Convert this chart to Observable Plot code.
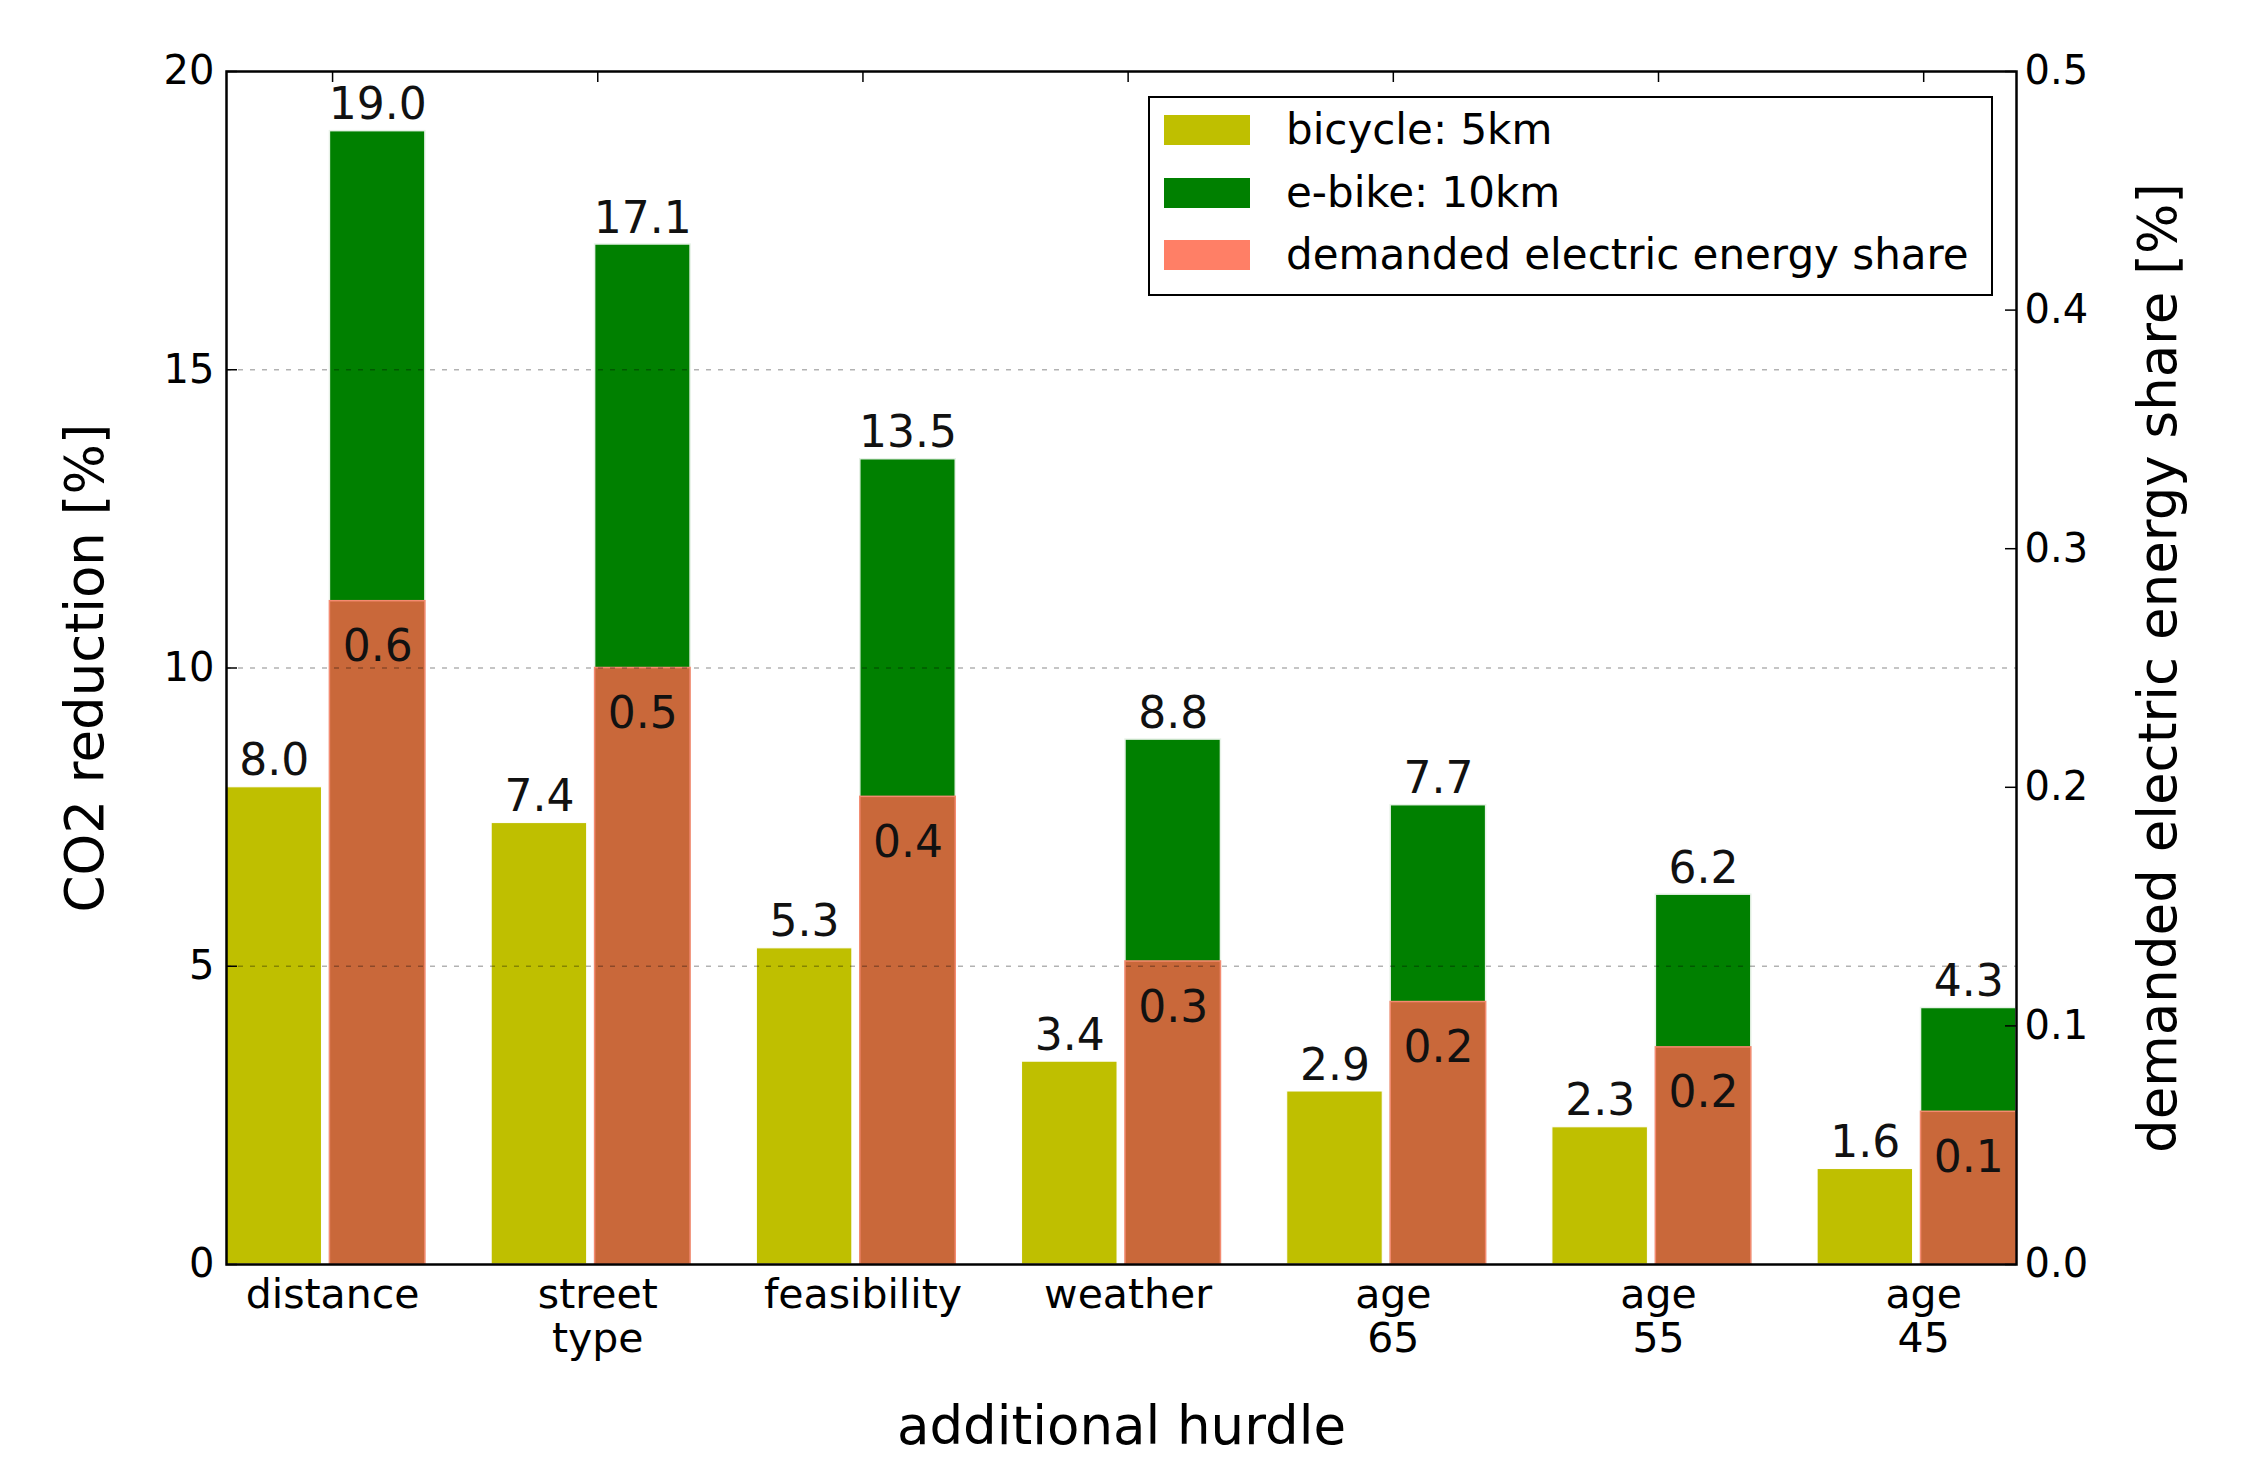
<!DOCTYPE html>
<html>
<head>
<meta charset="utf-8">
<script src="https://cdn.jsdelivr.net/npm/d3@7"></script>
<script src="https://cdn.jsdelivr.net/npm/@observablehq/plot@0.6"></script>
<style>
  html, body { margin: 0; padding: 0; background: white; }
  #wrap { position: relative; width: 2242px; height: 1458px; font-family: "DejaVu Sans", sans-serif; }
  #legend { position: absolute; left: 1148px; top: 96px; width: 841px; height: 196px; border: 2.5px solid #000; background: white; }
  .row { position: absolute; left: 14px; height: 30px; display: flex; align-items: center; }
  .sw { width: 86px; height: 30px; margin-right: 36px; box-sizing: border-box; }
  .lt { font-size: 42px; color: #000; white-space: nowrap; line-height: 30px; }
</style>
</head>
<body>
<div id="wrap"></div>
<script>
const categories = ["distance", "street\ntype", "feasibility", "weather", "age\n65", "age\n55", "age\n45"];
const bicycle = [8.0, 7.4, 5.3, 3.4, 2.9, 2.3, 1.6];
const ebike = [19.0, 17.1, 13.5, 8.8, 7.7, 6.2, 4.3];
const energyShare = [0.278, 0.250, 0.196, 0.127, 0.110, 0.091, 0.064];
const energyShareLabels = ["0.6", "0.5", "0.4", "0.3", "0.2", "0.2", "0.1"];
const leftTicks = [0, 5, 10, 15, 20];
const rightTicks = [0.0, 0.1, 0.2, 0.3, 0.4, 0.5];
const gridValues = [5, 10, 15];
const seriesNames = ["bicycle: 5km", "e-bike: 10km", "demanded electric energy share"];
const seriesColors = ["#bfbf00", "#008000", "#ff7f66"];

const shareToLeft = 20 / 0.5; // right axis 0..0.5 mapped onto left axis 0..20

const rows = categories.map((c, i) => ({
  i, category: c, bicycle: bicycle[i], ebike: ebike[i],
  share: energyShare[i], shareLabel: energyShareLabels[i]
}));

const W = 2242, H = 1458, mL = 226, mR = 226, mT = 71, mB = 194;
const fw = W - mL - mR, fh = H - mT - mB, tk = 11;

const chart = Plot.plot({
  width: W, height: H,
  marginLeft: mL, marginRight: mR, marginTop: mT, marginBottom: mB,
  x: {domain: [0, 6.75], axis: null},
  y: {domain: [0, 20], axis: null},
  style: {fontFamily: "DejaVu Sans, sans-serif", background: "white", color: "#000"},
  marks: [
    Plot.rectY(rows, {x1: d => d.i, x2: d => d.i + 0.36, y1: 0, y2: "bicycle", fill: seriesColors[0], stroke: "white", strokeWidth: 1}),
    Plot.rectY(rows, {x1: d => d.i + 0.39, x2: d => d.i + 0.75, y1: 0, y2: "ebike", fill: seriesColors[1], stroke: "#e8f2e8", strokeWidth: 1.5}),
    Plot.rectY(rows, {x1: d => d.i + 0.39, x2: d => d.i + 0.75, y1: 0, y2: d => d.share * shareToLeft, fill: "#c9683a", stroke: "#f48a70", strokeWidth: 1.5}),
    Plot.ruleY(gridValues, {stroke: "#000", strokeOpacity: 0.3, strokeWidth: 1.5, strokeDasharray: "5,7"}),
    Plot.frame({stroke: "#000", strokeWidth: 2.5}),
    Plot.tickX(rows, {x: d => d.i + 0.4, insetBottom: fh - tk, stroke: "#000", strokeWidth: 1.5}),
    Plot.tickY(leftTicks, {y: d => d, insetRight: fw - tk, stroke: "#000", strokeWidth: 1.5}),
    Plot.tickY(rightTicks, {y: d => d * shareToLeft, insetLeft: fw - tk, stroke: "#000", strokeWidth: 1.5}),
    Plot.text(leftTicks, {y: d => d, text: d => String(d), frameAnchor: "left", textAnchor: "end", dx: -12, fontSize: 40}),
    Plot.text(rightTicks, {y: d => d * shareToLeft, text: d => d.toFixed(1), frameAnchor: "right", textAnchor: "start", dx: 8, fontSize: 40}),
    Plot.text(rows, {x: d => d.i + 0.18, y: "bicycle", text: d => d.bicycle.toFixed(1), lineAnchor: "middle", dy: -26, fontSize: 44, fill: "#111"}),
    Plot.text(rows, {x: d => d.i + 0.57, y: "ebike", text: d => d.ebike.toFixed(1), lineAnchor: "middle", dy: -26, fontSize: 44, fill: "#111"}),
    Plot.text(rows, {x: d => d.i + 0.57, y: d => d.share * shareToLeft, text: "shareLabel", lineAnchor: "middle", dy: 46, fontSize: 44, fill: "#111"}),
    Plot.text(rows, {x: d => d.i + 0.4, text: "category", frameAnchor: "bottom", textAnchor: "middle", lineAnchor: "top", dy: 12, fontSize: 41, lineHeight: 1.08}),
    Plot.text(["additional hurdle"], {frameAnchor: "bottom", textAnchor: "middle", lineAnchor: "middle", dy: 163, fontSize: 53}),
    Plot.text(["CO2 reduction [%]"], {frameAnchor: "left", textAnchor: "middle", lineAnchor: "middle", dx: -140, rotate: -90, fontSize: 53}),
    Plot.text(["demanded electric energy share [%]"], {frameAnchor: "right", textAnchor: "middle", lineAnchor: "middle", dx: 143, rotate: -90, fontSize: 53})
  ]
});

const wrap = document.getElementById("wrap");
wrap.appendChild(chart);

const legend = document.createElement("div");
legend.id = "legend";
const rowTops = [17, 80, 142];
seriesNames.forEach((name, k) => {
  const r = document.createElement("div");
  r.className = "row";
  r.style.top = rowTops[k] + "px";
  const sw = document.createElement("div");
  sw.className = "sw";
  sw.style.background = seriesColors[k];
  const t = document.createElement("span");
  t.className = "lt";
  t.textContent = name;
  r.appendChild(sw); r.appendChild(t);
  legend.appendChild(r);
});
wrap.appendChild(legend);
</script>
</body>
</html>
